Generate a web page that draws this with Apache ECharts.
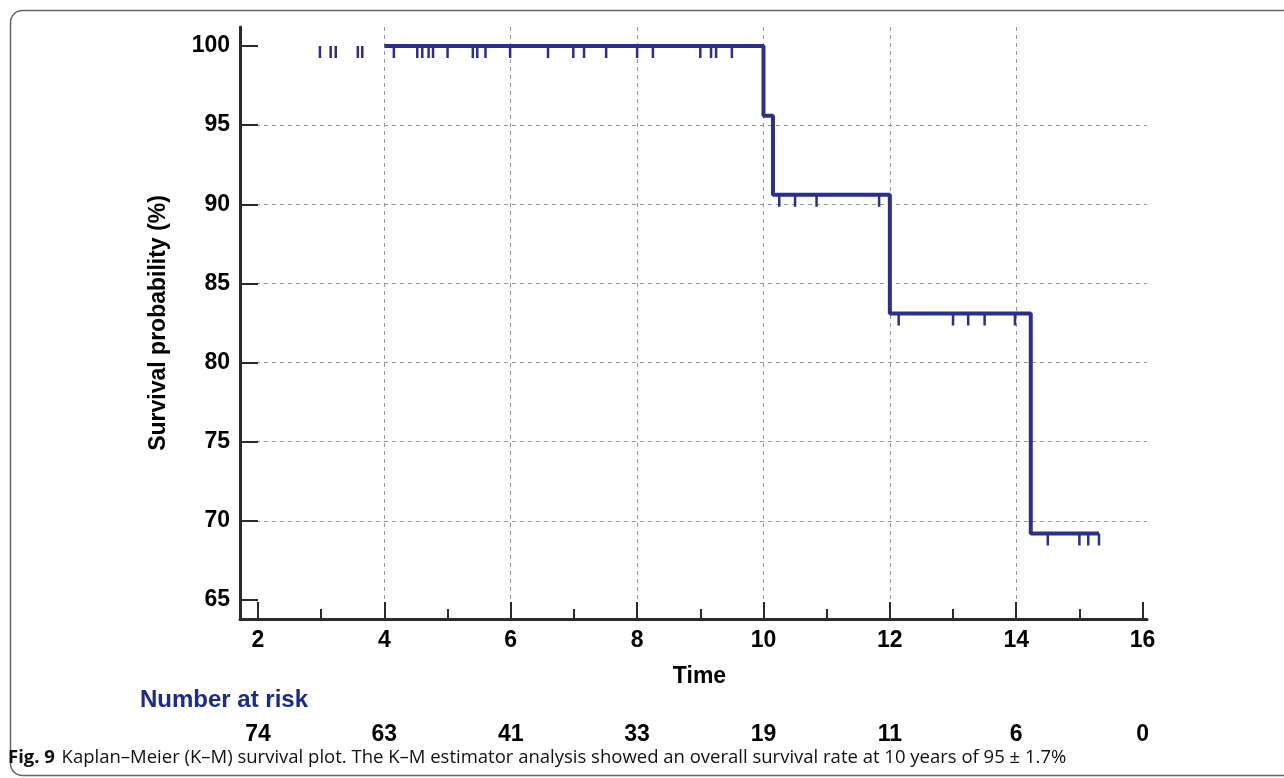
<!DOCTYPE html>
<html><head><meta charset="utf-8">
<script src="https://cdn.jsdelivr.net/npm/echarts@6/dist/echarts.min.js"></script>
<style>html,body{margin:0;padding:0;background:#fff}#c{width:1284px;height:778px}</style>
</head><body><div id="c"></div>
<script>
// ---- data ----
const xTicks = [2, 4, 6, 8, 10, 12, 14, 16];
const yTicks = [65, 70, 75, 80, 85, 90, 95, 100];
const curveTimes = [4, 10, 10.15, 12, 14.23, 15.31];
const curveSurvival = [100, 95.6, 90.6, 83.1, 69.2, 69.2];
const censorTimes = [2.98, 3.15, 3.23, 3.58, 3.65,
  4.15, 4.52, 4.6, 4.7, 4.77, 5.0, 5.4, 5.47, 5.6, 5.99,
  6.59, 6.99, 7.16, 7.51, 8.0, 8.25, 9.0, 9.17, 9.25, 9.5,
  10.25, 10.5, 10.84, 11.83,
  12.14, 13.0, 13.24, 13.5, 13.98,
  14.5, 15.0, 15.14, 15.31];
const atRiskTimes = [2, 4, 6, 8, 10, 12, 14, 16];
const atRisk = [74, 63, 41, 33, 19, 11, 6, 0];

const BLUE = '#2b2f8f';
const AXIS = '#2a2a2a';
const FONT = '"Liberation Sans", Arial, sans-serif';
const FS = 23;

function survivalAt(t) {
  let s = 100;
  for (let i = 0; i < curveTimes.length; i++) { if (curveTimes[i] <= t) s = curveSurvival[i]; }
  return s;
}

const chart = echarts.init(document.getElementById('c'), null, {renderer: 'canvas'});
const gridLine = {show: true, showMinLine: false, showMaxLine: false, lineStyle: {color: '#9a9a9a', width: 1, type: [4, 4]}};
chart.setOption({
  animation: false,
  backgroundColor: '#fff',
  grid: [
    {left: 240, top: 27, width: 907, height: 592},
    {left: 240, top: 722, width: 907, height: 26}
  ],
  xAxis: [{
    type: 'value', gridIndex: 0, min: 1.715, max: 16.07, splitNumber: 7,
    axisLine: {show: true, onZero: false, lineStyle: {color: AXIS, width: 3}},
    axisTick: {show: true, customValues: xTicks, inside: true, length: 17, lineStyle: {color: AXIS, width: 2}},
    minorTick: {show: true, splitNumber: 2, length: 10, lineStyle: {color: AXIS, width: 2}},
    axisLabel: {customValues: xTicks, margin: 10, fontSize: FS, fontWeight: 'bold', color: '#000', fontFamily: FONT},
    splitLine: gridLine,
    name: 'Time', nameLocation: 'middle', nameGap: 46,
    nameTextStyle: {fontSize: FS, fontWeight: 'bold', color: '#000', fontFamily: FONT, padding: [0, 0, 0, 12]}
  }, {
    type: 'value', gridIndex: 1, min: 1.715, max: 16.07, show: false
  }],
  yAxis: [{
    type: 'value', gridIndex: 0, min: 63.8, max: 101.2, splitNumber: 7,
    axisLine: {show: true, onZero: false, lineStyle: {color: AXIS, width: 3}},
    axisTick: {show: true, customValues: yTicks, inside: true, length: 18, lineStyle: {color: AXIS, width: 2}},
    axisLabel: {customValues: yTicks, margin: 10, fontSize: FS, fontWeight: 'bold', color: '#000', fontFamily: FONT},
    splitLine: gridLine,
    name: 'Survival probability (%)', nameLocation: 'middle', nameGap: 70,
    nameTextStyle: {fontSize: FS, fontWeight: 'bold', color: '#000', fontFamily: FONT}
  }, {
    type: 'value', gridIndex: 1, min: 0, max: 1, show: false
  }],
  series: [{
    type: 'line', xAxisIndex: 0, yAxisIndex: 0, step: 'end',
    data: curveTimes.map((t, i) => [t, curveSurvival[i]]),
    showSymbol: false, symbol: 'none',
    lineStyle: {color: BLUE, width: 4}, z: 3
  }, {
    type: 'scatter', xAxisIndex: 0, yAxisIndex: 0,
    data: censorTimes.map(t => [t, survivalAt(t)]),
    symbol: 'rect', symbolSize: [2.5, 12], symbolOffset: [0, 6],
    itemStyle: {color: BLUE, opacity: 1}, z: 4
  }, {
    type: 'scatter', xAxisIndex: 1, yAxisIndex: 1,
    data: atRiskTimes.map((t, i) => [t, 0.5, atRisk[i]]),
    symbol: 'circle', symbolSize: 0, itemStyle: {color: '#000', opacity: 1},
    label: {show: true, position: 'inside', formatter: p => String(p.value[2]),
      fontSize: FS, fontWeight: 'bold', color: '#000', fontFamily: FONT, textBorderWidth: 0, opacity: 1}
  }],
  graphic: [{
    type: 'rect', silent: true,
    shape: {x: 10.5, y: 10.5, width: 1300, height: 765, r: 12},
    style: {fill: 'none', stroke: '#666', lineWidth: 1.5}
  }, {
    type: 'text', left: 140, top: 688,
    style: {text: 'Number at risk', fontSize: 24, fontWeight: 'bold', fill: '#1c2a8c', fontFamily: FONT}
  }, {
    type: 'text', left: 8, top: 748,
    style: {
      text: '{b|Fig. 9}  {r|Kaplan–Meier (K–M) survival plot. The K–M estimator analysis showed an overall survival rate at 10 years of 95 ± 1.7%}',
      rich: {
        b: {fontSize: 18.5, fontWeight: 'bold', fill: '#111', fontFamily: '"Open Sans", sans-serif'},
        r: {fontSize: 18.5, fill: '#111', fontFamily: '"Open Sans", sans-serif'}
      }
    }
  }]
});
</script>
</body></html>
